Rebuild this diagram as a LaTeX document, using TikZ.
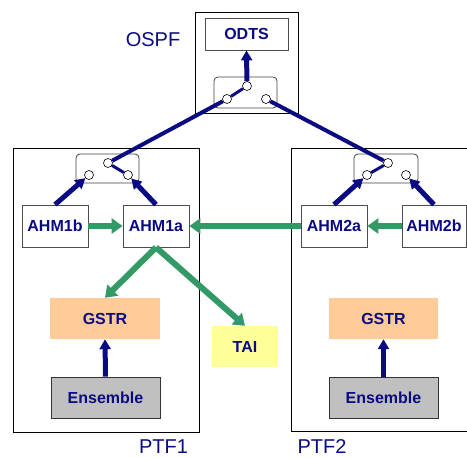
\documentclass[tikz,border=0pt]{standalone}
\usepackage{fontspec}
\setmainfont{Liberation Sans}
\usetikzlibrary{arrows.meta}
\definecolor{navy}{RGB}{10,10,130}
\definecolor{sgreen}{RGB}{51,153,102}
\definecolor{peach}{RGB}{255,204,153}
\definecolor{lyellow}{RGB}{255,255,153}
\definecolor{lgray}{RGB}{192,192,192}
\begin{document}
\begin{tikzpicture}[x=1pt,y=-1pt,
  lbl/.style={font=\fontsize{16}{18}\selectfont\bfseries, text=navy},
  bigl/.style={font=\fontsize{20}{24}\selectfont, text=navy},
  box/.style={draw=black!70, line width=0.8pt, fill=white, minimum width=66pt, minimum height=42pt, inner sep=0pt, lbl},
  cbox/.style={minimum width=110pt, minimum height=41pt, inner sep=0pt, lbl},
  frame/.style={draw=black, line width=0.8pt},
  swbox/.style={draw=black!75, line width=0.8pt, rounded corners=4pt},
  pin/.style={circle, draw=black, line width=0.6pt, fill=white, minimum size=9pt, inner sep=0pt},
  nline/.style={draw=navy, line width=4pt},
  blade/.style={draw=navy, line width=3pt},
  narrow/.style={draw=navy, line width=5pt, -{Triangle[length=10pt,width=11pt]}},
  garrow/.style={draw=sgreen, line width=6pt, -{Triangle[length=11pt,width=15pt]}}
]
\useasboundingbox (0,0) rectangle (467,458);
% frames
\draw[frame] (195,12) rectangle (298,113);
\draw[frame] (13,148) rectangle (199,432);
\draw[frame] (291,148) rectangle (480,431);
% switch boxes
\draw[swbox] (214,77) rectangle (277,108);
\draw[swbox] (76,154) rectangle (139,183);
\draw[swbox] (354,154) rectangle (418,183);
% labels
\node[bigl] (lospf) at (153,40) {OSPF};
\node[bigl] (lptf1) at (163.5,447) {PTF1};
\node[bigl] (lptf2) at (322,447) {PTF2};
% nodes
\node[box, minimum width=83pt, minimum height=32pt] (odts) at (246.5,34) {ODTS};
\node[box] (ahm1b) at (55,226) {AHM1b};
\node[box] (ahm1a) at (156,226) {AHM1a};
\node[box] (ahm2a) at (334,226) {AHM2a};
\node[box, minimum width=64pt] (ahm2b) at (434,226) {AHM2b};
\node[cbox, fill=peach] (gstr1) at (105,318.5) {GSTR};
\node[cbox, fill=lgray, draw=black!80, line width=0.8pt, minimum width=109pt] (ens1) at (105.5,397.5) {Ensemble};
\node[cbox, fill=lyellow, minimum width=66pt] (tai) at (245,346.5) {TAI};
\node[cbox, fill=peach, minimum width=109pt] (gstr2) at (383.5,318.5) {GSTR};
\node[cbox, fill=lgray, draw=black!80, line width=0.8pt, minimum width=109pt] (ens2) at (383.5,397.5) {Ensemble};
% pins
\node[pin] (c0t) at (247,86) {};
\node[pin] (c0l) at (227,99) {};
\node[pin] (c0r) at (266,99) {};
\node[pin] (c1t) at (108,163) {};
\node[pin] (c1l) at (89,175) {};
\node[pin] (c1r) at (128,175) {};
\node[pin] (c2t) at (388,163) {};
\node[pin] (c2l) at (367,175) {};
\node[pin] (c2r) at (406,175) {};
% blades
\draw[blade] (c0t) -- (c0l);
\draw[blade] (c1t) -- (c1r);
\draw[blade] (c2t) -- (c2l);
% links
\draw[nline] (c0l) -- (c1t);
\draw[nline] (c0r) -- (c2t);
% navy arrows
\draw[narrow] (c0t) -- (odts.south);
\draw[narrow] (ahm1b.north) -- (c1l);
\draw[narrow] (ahm1a.north) -- (c1r);
\draw[narrow] (ahm2a.north) -- (c2l);
\draw[narrow] (ahm2b.north) -- (c2r);
\draw[narrow] (ens1.north) -- (gstr1.south);
\draw[narrow] (ens2.north) -- (gstr2.south);
% green arrows
\draw[garrow] (ahm1b.east) -- (ahm1a.west);
\draw[garrow] (ahm2b.west) -- (ahm2a.east);
\draw[garrow] (ahm2a.west) -- (ahm1a.east);
\draw[garrow] (ahm1a.south) -- (gstr1.north);
\draw[garrow] (ahm1a.south) -- (tai.north);
\end{tikzpicture}
\end{document}
